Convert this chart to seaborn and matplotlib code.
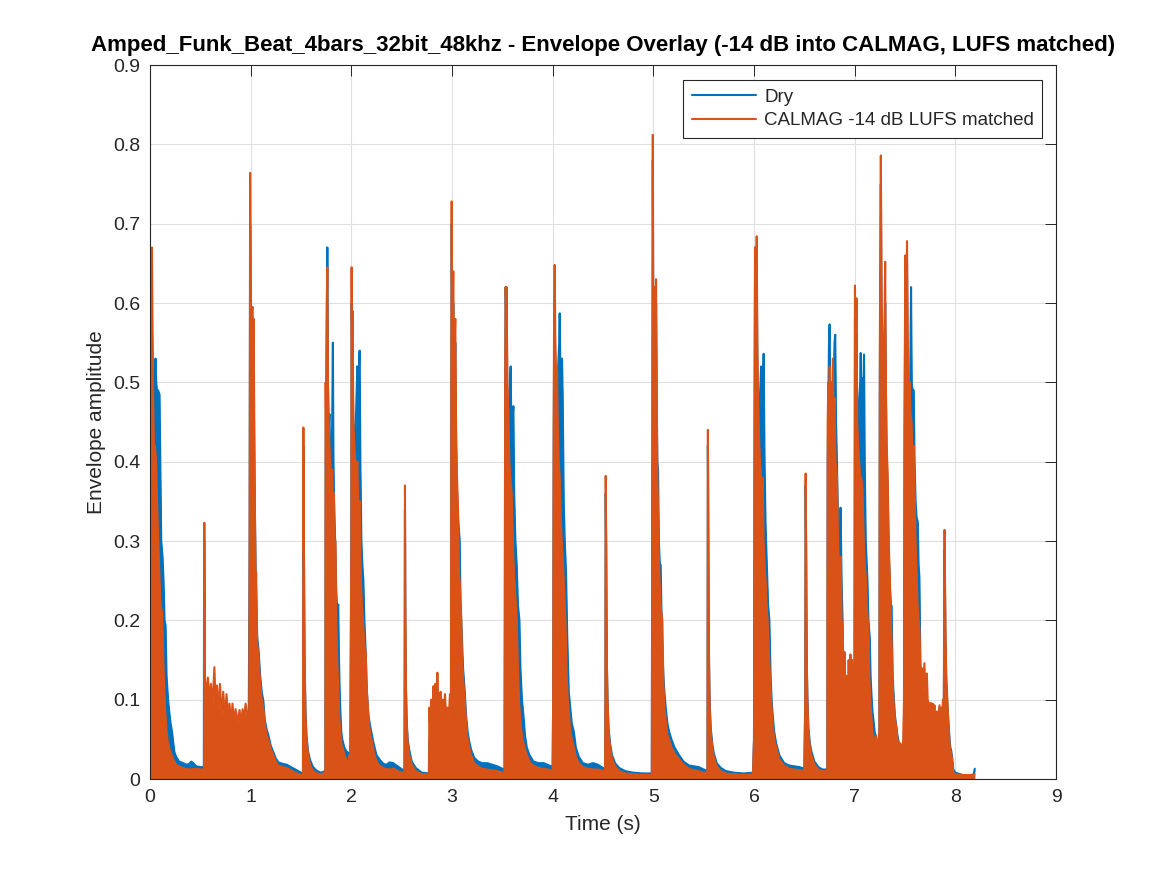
import matplotlib
matplotlib.use("Agg")
import matplotlib.pyplot as plt
import seaborn as sns

# envelope outlines, (time s, amplitude)
dry_env = [
    # hit at 0 s
    (0.0, 0.0), (0.004, 0.42), (0.012, 0.60), (0.022, 0.55), (0.035, 0.45), (0.045, 0.49),
    (0.055, 0.53), (0.062, 0.50), (0.07, 0.49), (0.08, 0.49), (0.095, 0.485), (0.103, 0.40),
    (0.112, 0.30), (0.125, 0.28), (0.135, 0.25), (0.145, 0.2), (0.155, 0.194), (0.165, 0.13),
    (0.18, 0.10), (0.193, 0.083), (0.205, 0.07), (0.22, 0.059), (0.232, 0.045), (0.243, 0.034),
    (0.26, 0.028), (0.29, 0.022), (0.33, 0.02), (0.36, 0.018), (0.39, 0.019), (0.41, 0.022),
    (0.43, 0.02), (0.46, 0.016), (0.50, 0.015), (0.535, 0.015),
    # hit 0.54 s + roll
    (0.538, 0.30), (0.545, 0.06), (0.70, 0.05), (0.98, 0.05),
    # hit 1 s
    (0.99, 0.3), (0.995, 0.70), (1.005, 0.55), (1.02, 0.58), (1.03, 0.50), (1.04, 0.36),
    (1.05, 0.26), (1.065, 0.18), (1.08, 0.16), (1.095, 0.13), (1.11, 0.11), (1.127, 0.098),
    (1.14, 0.075), (1.16, 0.062), (1.175, 0.056), (1.20, 0.042), (1.225, 0.034), (1.25, 0.026),
    (1.275, 0.021), (1.32, 0.019), (1.36, 0.018), (1.40, 0.015), (1.46, 0.011), (1.50, 0.008),
    (1.52, 0.007),
    # hit 1.52 s
    (1.522, 0.15), (1.524, 0.42), (1.528, 0.28), (1.535, 0.15), (1.545, 0.085), (1.555, 0.055),
    (1.57, 0.035), (1.59, 0.024), (1.62, 0.015), (1.66, 0.01), (1.70, 0.008), (1.74, 0.01),
    # hit 1.76 s
    (1.742, 0.0), (1.745, 0.40), (1.755, 0.55), (1.762, 0.67), (1.768, 0.50), (1.775, 0.44),
    (1.783, 0.46), (1.79, 0.40), (1.80, 0.38), (1.81, 0.45), (1.817, 0.55), (1.823, 0.40),
    (1.83, 0.34), (1.84, 0.30), (1.85, 0.24), (1.86, 0.21), (1.87, 0.22), (1.878, 0.15),
    (1.883, 0.12), (1.89, 0.09), (1.90, 0.06), (1.91, 0.05), (1.93, 0.04), (1.95, 0.035),
    (1.97, 0.033), (1.99, 0.03),
    # hit 2 s
    (2.0, 0.3), (2.003, 0.60), (2.01, 0.55), (2.02, 0.45), (2.035, 0.42), (2.045, 0.45),
    (2.055, 0.50), (2.06, 0.52), (2.07, 0.48), (2.078, 0.53), (2.083, 0.54), (2.09, 0.40),
    (2.10, 0.30), (2.11, 0.27), (2.12, 0.25), (2.13, 0.20), (2.143, 0.16), (2.155, 0.11),
    (2.17, 0.08), (2.19, 0.065), (2.218, 0.047), (2.25, 0.03), (2.284, 0.024), (2.32, 0.019),
    (2.35, 0.018), (2.38, 0.021), (2.416, 0.02), (2.45, 0.017), (2.482, 0.014), (2.528, 0.01),
    # hit 2.53 s
    (2.53, 0.1), (2.533, 0.34), (2.537, 0.2), (2.542, 0.12), (2.55, 0.075), (2.56, 0.05),
    (2.575, 0.037), (2.60, 0.022), (2.64, 0.014), (2.70, 0.008), (2.77, 0.007),
    (2.775, 0.05), (2.85, 0.055), (2.95, 0.05), (2.99, 0.06),
    # hit 3 s
    (2.993, 0.45), (2.997, 0.70), (3.003, 0.55), (3.013, 0.60), (3.025, 0.50), (3.033, 0.55),
    (3.04, 0.42), (3.05, 0.36), (3.06, 0.33), (3.077, 0.30), (3.085, 0.22), (3.095, 0.19),
    (3.11, 0.14), (3.127, 0.11), (3.14, 0.08), (3.155, 0.06), (3.17, 0.048), (3.19, 0.037),
    (3.22, 0.027), (3.26, 0.022), (3.30, 0.02), (3.35, 0.02), (3.40, 0.018), (3.45, 0.016),
    (3.50, 0.013), (3.522, 0.012),
    # hit 3.53 s
    (3.525, 0.2), (3.528, 0.48), (3.533, 0.62), (3.538, 0.58), (3.543, 0.60), (3.55, 0.48),
    (3.56, 0.44), (3.57, 0.46), (3.577, 0.50), (3.583, 0.52), (3.59, 0.44), (3.60, 0.45),
    (3.61, 0.47), (3.618, 0.36), (3.63, 0.30), (3.643, 0.27), (3.655, 0.22), (3.67, 0.20),
    (3.68, 0.14), (3.695, 0.10), (3.71, 0.08), (3.725, 0.055), (3.743, 0.04), (3.77, 0.03),
    (3.81, 0.022), (3.86, 0.02), (3.91, 0.02), (3.95, 0.018), (4.0, 0.015),
    # hit 4 s
    (4.005, 0.1), (4.01, 0.40), (4.015, 0.55), (4.02, 0.60), (4.027, 0.50), (4.035, 0.48),
    (4.045, 0.50), (4.055, 0.52), (4.065, 0.55), (4.07, 0.587), (4.078, 0.50), (4.085, 0.52),
    (4.093, 0.53), (4.10, 0.48), (4.11, 0.35), (4.12, 0.30), (4.133, 0.26), (4.145, 0.18),
    (4.16, 0.11), (4.175, 0.09), (4.19, 0.07), (4.21, 0.06), (4.23, 0.04), (4.26, 0.028),
    (4.30, 0.02), (4.35, 0.018), (4.40, 0.02), (4.45, 0.018), (4.50, 0.014), (4.52, 0.012),
    # hit 4.53 s
    (4.524, 0.1), (4.527, 0.36), (4.532, 0.28), (4.538, 0.15), (4.545, 0.1), (4.555, 0.065),
    (4.57, 0.045), (4.59, 0.03), (4.62, 0.02), (4.66, 0.014), (4.72, 0.01), (4.80, 0.008),
    (4.90, 0.007), (4.985, 0.007),
    # hit 5 s
    (4.99, 0.4), (4.995, 0.78), (5.0, 0.55), (5.01, 0.52), (5.015, 0.58), (5.02, 0.50),
    (5.027, 0.60), (5.033, 0.48), (5.04, 0.40), (5.047, 0.39), (5.055, 0.30), (5.065, 0.27),
    (5.073, 0.27), (5.085, 0.18), (5.10, 0.13), (5.11, 0.11), (5.123, 0.09), (5.14, 0.07),
    (5.156, 0.06), (5.18, 0.05), (5.21, 0.04), (5.256, 0.03), (5.30, 0.022), (5.355, 0.017),
    (5.40, 0.016), (5.45, 0.015), (5.50, 0.012), (5.538, 0.01),
    # hit 5.54 s
    (5.539, 0.15), (5.542, 0.42), (5.547, 0.28), (5.553, 0.15), (5.56, 0.095), (5.57, 0.065),
    (5.585, 0.045), (5.60, 0.033), (5.63, 0.02), (5.67, 0.014), (5.72, 0.01), (5.80, 0.008),
    (5.90, 0.007), (5.99, 0.008),
    # hit 6 s
    (6.0, 0.05), (6.005, 0.40), (6.01, 0.62), (6.018, 0.50), (6.027, 0.64), (6.035, 0.50),
    (6.045, 0.45), (6.055, 0.47), (6.065, 0.50), (6.07, 0.52), (6.08, 0.48), (6.09, 0.50),
    (6.096, 0.536), (6.105, 0.40), (6.115, 0.32), (6.13, 0.26), (6.14, 0.22), (6.153, 0.20),
    (6.165, 0.13), (6.175, 0.10), (6.186, 0.08), (6.20, 0.06), (6.22, 0.045), (6.252, 0.03),
    (6.30, 0.02), (6.35, 0.017), (6.40, 0.016), (6.45, 0.015), (6.50, 0.013),
    # hit 6.51 s
    (6.509, 0.1), (6.513, 0.37), (6.518, 0.28), (6.524, 0.15), (6.53, 0.105), (6.54, 0.065),
    (6.555, 0.045), (6.57, 0.035), (6.60, 0.022), (6.64, 0.015), (6.68, 0.012), (6.725, 0.012),
    # hits 6.75 - 8 s
    (6.728, 0.0), (6.732, 0.40), (6.74, 0.50), (6.745, 0.55), (6.751, 0.573), (6.758, 0.48),
    (6.765, 0.50), (6.775, 0.45), (6.785, 0.50), (6.795, 0.52), (6.80, 0.55), (6.807, 0.56),
    (6.815, 0.45), (6.824, 0.40), (6.835, 0.32), (6.845, 0.28), (6.855, 0.30), (6.86, 0.342),
    (6.87, 0.25), (6.88, 0.20), (6.89, 0.12), (6.90, 0.10), (6.92, 0.09), (6.95, 0.09),
    (6.975, 0.10), (6.998, 0.10),
    (7.0, 0.3), (7.003, 0.58), (7.01, 0.48), (7.018, 0.56), (7.025, 0.45), (7.035, 0.44),
    (7.045, 0.48), (7.055, 0.50), (7.06, 0.537), (7.068, 0.46), (7.077, 0.505), (7.085, 0.48),
    (7.093, 0.535), (7.10, 0.40), (7.11, 0.30), (7.12, 0.27), (7.127, 0.25), (7.137, 0.20),
    (7.15, 0.178), (7.158, 0.13), (7.167, 0.106), (7.177, 0.085), (7.187, 0.074), (7.198, 0.06),
    (7.21, 0.053), (7.227, 0.043), (7.245, 0.05),
    (7.25, 0.50), (7.26, 0.75), (7.268, 0.55), (7.277, 0.50), (7.29, 0.48), (7.303, 0.60),
    (7.31, 0.48), (7.318, 0.40), (7.327, 0.37), (7.338, 0.29), (7.35, 0.24), (7.36, 0.22),
    (7.367, 0.218), (7.377, 0.13), (7.39, 0.10), (7.40, 0.08), (7.41, 0.07), (7.425, 0.055),
    (7.443, 0.043), (7.46, 0.043), (7.475, 0.035), (7.49, 0.05),
    (7.495, 0.4), (7.503, 0.62), (7.51, 0.50), (7.52, 0.65), (7.527, 0.50), (7.537, 0.45),
    (7.543, 0.49), (7.55, 0.48), (7.56, 0.62), (7.567, 0.50), (7.575, 0.49), (7.587, 0.49),
    (7.595, 0.40), (7.605, 0.35), (7.615, 0.33), (7.627, 0.324), (7.635, 0.27), (7.643, 0.255),
    (7.655, 0.12), (7.70, 0.09), (7.75, 0.07), (7.80, 0.06), (7.85, 0.06), (7.885, 0.07),
    (7.89, 0.2), (7.893, 0.29), (7.898, 0.22), (7.903, 0.16), (7.91, 0.12), (7.92, 0.095),
    (7.927, 0.08), (7.935, 0.065), (7.943, 0.05), (7.95, 0.04), (7.96, 0.035), (7.97, 0.025),
    (7.98, 0.012), (8.0, 0.008), (8.05, 0.006), (8.10, 0.004), (8.13, 0.002), (8.16, 0.001),
    (8.18, 0.004), (8.193, 0.013),
]

calmag_env = [
    # hit at 0 s
    (0.0, 0.0), (0.003, 0.49), (0.010, 0.665), (0.020, 0.67), (0.026, 0.56), (0.033, 0.47),
    (0.040, 0.41), (0.050, 0.42), (0.060, 0.40), (0.075, 0.33), (0.090, 0.27), (0.105, 0.22),
    (0.120, 0.21), (0.130, 0.16), (0.140, 0.12), (0.150, 0.088), (0.165, 0.06), (0.180, 0.045),
    (0.200, 0.035), (0.230, 0.025), (0.26, 0.018), (0.30, 0.015), (0.35, 0.013), (0.40, 0.012),
    (0.45, 0.013), (0.50, 0.012), (0.535, 0.012),
    # hit 0.54 s + roll
    (0.538, 0.0), (0.540, 0.323), (0.546, 0.13), (0.555, 0.10), (0.575, 0.128), (0.59, 0.10),
    (0.605, 0.12), (0.62, 0.09), (0.64, 0.141), (0.65, 0.10), (0.665, 0.118), (0.68, 0.085),
    (0.695, 0.12), (0.71, 0.08), (0.728, 0.11), (0.745, 0.075), (0.76, 0.107), (0.78, 0.072),
    (0.79, 0.095), (0.805, 0.07), (0.82, 0.095), (0.835, 0.07), (0.85, 0.088), (0.87, 0.072),
    (0.89, 0.087), (0.905, 0.07), (0.92, 0.088), (0.935, 0.075), (0.95, 0.095), (0.97, 0.08),
    (0.985, 0.06),
    # hit 1 s
    (0.99, 0.30), (0.995, 0.764), (1.003, 0.55), (1.010, 0.59), (1.020, 0.595), (1.025, 0.50),
    (1.030, 0.58), (1.040, 0.37), (1.050, 0.25), (1.055, 0.26), (1.065, 0.17), (1.08, 0.15),
    (1.095, 0.12), (1.11, 0.10), (1.125, 0.09), (1.14, 0.07), (1.16, 0.055), (1.175, 0.05),
    (1.20, 0.038), (1.225, 0.03), (1.25, 0.022), (1.275, 0.017), (1.32, 0.015), (1.36, 0.014),
    (1.40, 0.011), (1.46, 0.007), (1.50, 0.005), (1.52, 0.005),
    # hit 1.52 s
    (1.522, 0.20), (1.524, 0.443), (1.528, 0.30), (1.532, 0.26), (1.537, 0.15), (1.545, 0.08),
    (1.555, 0.05), (1.57, 0.03), (1.59, 0.018), (1.62, 0.01), (1.66, 0.007), (1.70, 0.006),
    (1.74, 0.008),
    # hit 1.76 s
    (1.742, 0.0), (1.745, 0.50), (1.75, 0.40), (1.757, 0.60), (1.762, 0.645), (1.768, 0.50),
    (1.775, 0.45), (1.783, 0.42), (1.79, 0.40), (1.80, 0.36), (1.81, 0.39), (1.82, 0.33),
    (1.827, 0.36), (1.835, 0.30), (1.843, 0.30), (1.85, 0.20), (1.86, 0.15), (1.87, 0.12),
    (1.88, 0.08), (1.89, 0.06), (1.90, 0.05), (1.91, 0.0), (1.915, 0.04), (1.93, 0.03),
    (1.95, 0.025), (1.965, 0.02), (1.975, 0.0), (1.98, 0.03), (1.99, 0.02),
    # hit 2 s
    (2.0, 0.3), (2.003, 0.645), (2.008, 0.50), (2.013, 0.59), (2.02, 0.45), (2.03, 0.42),
    (2.04, 0.40), (2.05, 0.38), (2.06, 0.40), (2.07, 0.33), (2.083, 0.35), (2.095, 0.25),
    (2.105, 0.22), (2.12, 0.19), (2.13, 0.17), (2.143, 0.16), (2.15, 0.12), (2.16, 0.10),
    (2.175, 0.07), (2.19, 0.055), (2.21, 0.045), (2.23, 0.03), (2.26, 0.02), (2.29, 0.016),
    (2.33, 0.013), (2.38, 0.012), (2.42, 0.013), (2.46, 0.01), (2.50, 0.008), (2.528, 0.008),
    # hit 2.53 s
    (2.530, 0.1), (2.533, 0.37), (2.537, 0.22), (2.542, 0.12), (2.55, 0.07), (2.56, 0.045),
    (2.575, 0.03), (2.60, 0.018), (2.64, 0.01), (2.70, 0.006), (2.77, 0.006),
    # roll 2.77 - 3 s
    (2.772, 0.0), (2.775, 0.09), (2.785, 0.06), (2.795, 0.10), (2.805, 0.07), (2.815, 0.117),
    (2.825, 0.08), (2.835, 0.12), (2.845, 0.085), (2.855, 0.134), (2.865, 0.09), (2.875, 0.105),
    (2.887, 0.11), (2.90, 0.08), (2.91, 0.10), (2.92, 0.075), (2.93, 0.107), (2.94, 0.085),
    (2.953, 0.09), (2.965, 0.07), (2.98, 0.107), (2.99, 0.09),
    # hit 3 s
    (2.993, 0.5), (2.997, 0.728), (3.003, 0.55), (3.013, 0.64), (3.02, 0.50), (3.027, 0.55),
    (3.033, 0.58), (3.04, 0.45), (3.05, 0.38), (3.06, 0.34), (3.07, 0.26), (3.08, 0.24),
    (3.093, 0.20), (3.10, 0.15), (3.11, 0.13), (3.12, 0.11), (3.127, 0.10), (3.14, 0.07),
    (3.155, 0.05), (3.17, 0.04), (3.19, 0.03), (3.22, 0.02), (3.26, 0.016), (3.30, 0.013),
    (3.35, 0.012), (3.40, 0.011), (3.45, 0.01), (3.50, 0.008), (3.522, 0.008),
    # hit 3.53 s
    (3.525, 0.2), (3.528, 0.50), (3.533, 0.62), (3.538, 0.60), (3.543, 0.62), (3.55, 0.50),
    (3.56, 0.46), (3.57, 0.40), (3.58, 0.38), (3.593, 0.36), (3.605, 0.30), (3.615, 0.26),
    (3.625, 0.24), (3.635, 0.22), (3.643, 0.20), (3.655, 0.14), (3.665, 0.10), (3.675, 0.08),
    (3.69, 0.06), (3.71, 0.045), (3.73, 0.035), (3.75, 0.028), (3.78, 0.02), (3.82, 0.016),
    (3.86, 0.014), (3.90, 0.013), (3.95, 0.012), (4.0, 0.01),
    # hit 4 s
    (4.005, 0.1), (4.01, 0.45), (4.015, 0.60), (4.02, 0.648), (4.027, 0.55), (4.035, 0.50),
    (4.043, 0.52), (4.05, 0.45), (4.06, 0.40), (4.07, 0.38), (4.08, 0.33), (4.09, 0.30),
    (4.10, 0.28), (4.11, 0.25), (4.12, 0.22), (4.127, 0.20), (4.14, 0.13), (4.15, 0.10),
    (4.16, 0.085), (4.175, 0.06), (4.19, 0.05), (4.21, 0.04), (4.23, 0.028), (4.26, 0.02),
    (4.30, 0.015), (4.35, 0.013), (4.40, 0.012), (4.45, 0.012), (4.50, 0.01), (4.52, 0.008),
    # hit 4.53 s
    (4.524, 0.1), (4.527, 0.382), (4.532, 0.30), (4.538, 0.15), (4.545, 0.1), (4.555, 0.06),
    (4.57, 0.04), (4.59, 0.025), (4.62, 0.016), (4.66, 0.01), (4.72, 0.007), (4.80, 0.006),
    (4.90, 0.005), (4.985, 0.005),
    # hit 5 s
    (4.99, 0.45), (4.995, 0.812), (5.0, 0.55), (5.008, 0.55), (5.015, 0.62), (5.02, 0.50),
    (5.027, 0.63), (5.033, 0.52), (5.04, 0.38), (5.047, 0.33), (5.055, 0.28), (5.065, 0.24),
    (5.073, 0.22), (5.08, 0.21), (5.09, 0.20), (5.10, 0.12), (5.11, 0.09), (5.123, 0.075),
    (5.14, 0.055), (5.156, 0.05), (5.18, 0.04), (5.21, 0.032), (5.256, 0.025), (5.30, 0.018),
    (5.355, 0.013), (5.40, 0.011), (5.45, 0.01), (5.50, 0.008), (5.538, 0.008),
    # hit 5.54 s
    (5.539, 0.15), (5.542, 0.44), (5.547, 0.30), (5.553, 0.15), (5.56, 0.09), (5.57, 0.06),
    (5.585, 0.04), (5.60, 0.028), (5.63, 0.016), (5.67, 0.01), (5.72, 0.007), (5.80, 0.006),
    (5.90, 0.005), (5.99, 0.006),
    # hit 6 s
    (6.0, 0.05), (6.005, 0.45), (6.01, 0.67), (6.018, 0.55), (6.027, 0.684), (6.033, 0.55),
    (6.04, 0.48), (6.053, 0.42), (6.06, 0.40), (6.07, 0.38), (6.08, 0.36), (6.086, 0.38),
    (6.095, 0.30), (6.105, 0.27), (6.115, 0.25), (6.125, 0.22), (6.135, 0.20), (6.145, 0.17),
    (6.155, 0.14), (6.17, 0.10), (6.185, 0.07), (6.20, 0.05), (6.22, 0.04), (6.25, 0.025),
    (6.30, 0.017), (6.35, 0.013), (6.40, 0.012), (6.45, 0.011), (6.50, 0.01),
    # hit 6.51 s
    (6.509, 0.1), (6.513, 0.385), (6.518, 0.30), (6.524, 0.15), (6.53, 0.10), (6.54, 0.06),
    (6.555, 0.04), (6.57, 0.03), (6.60, 0.018), (6.64, 0.012), (6.68, 0.01), (6.725, 0.01),
    # hits 6.75 - 8 s
    (6.728, 0.0), (6.732, 0.45), (6.738, 0.50), (6.745, 0.38), (6.752, 0.52), (6.76, 0.45),
    (6.768, 0.50), (6.775, 0.42), (6.784, 0.53), (6.79, 0.45), (6.80, 0.48), (6.81, 0.40),
    (6.824, 0.38), (6.835, 0.30), (6.845, 0.26), (6.855, 0.20), (6.862, 0.28), (6.87, 0.20),
    (6.88, 0.19), (6.89, 0.12), (6.90, 0.16), (6.91, 0.10), (6.92, 0.13), (6.93, 0.09),
    (6.94, 0.15), (6.95, 0.10), (6.958, 0.157), (6.965, 0.11), (6.975, 0.15), (6.99, 0.10),
    (6.998, 0.12),
    (7.0, 0.3), (7.003, 0.622), (7.01, 0.50), (7.018, 0.606), (7.025, 0.45), (7.035, 0.42),
    (7.045, 0.40), (7.055, 0.38), (7.065, 0.38), (7.077, 0.367), (7.09, 0.30), (7.10, 0.27),
    (7.11, 0.255), (7.12, 0.22), (7.13, 0.20), (7.137, 0.19), (7.145, 0.13), (7.155, 0.10),
    (7.165, 0.08), (7.175, 0.06), (7.19, 0.05), (7.20, 0.04), (7.21, 0.055), (7.22, 0.04),
    (7.235, 0.05), (7.245, 0.06),
    (7.25, 0.55), (7.26, 0.786), (7.268, 0.60), (7.277, 0.54), (7.29, 0.50), (7.303, 0.652),
    (7.31, 0.50), (7.318, 0.42), (7.327, 0.388), (7.338, 0.30), (7.35, 0.25), (7.36, 0.20),
    (7.37, 0.16), (7.377, 0.12), (7.39, 0.09), (7.40, 0.075), (7.41, 0.069), (7.425, 0.05),
    (7.44, 0.04), (7.455, 0.045), (7.47, 0.03), (7.48, 0.04), (7.49, 0.10),
    (7.495, 0.45), (7.503, 0.66), (7.51, 0.55), (7.52, 0.678), (7.527, 0.55), (7.537, 0.473),
    (7.545, 0.50), (7.555, 0.46), (7.565, 0.45), (7.575, 0.40), (7.585, 0.42), (7.593, 0.378),
    (7.605, 0.30), (7.615, 0.26), (7.625, 0.22), (7.635, 0.20), (7.643, 0.19), (7.655, 0.13),
    (7.665, 0.14), (7.675, 0.11), (7.685, 0.13), (7.693, 0.146), (7.70, 0.11), (7.71, 0.12),
    (7.717, 0.133), (7.725, 0.10), (7.735, 0.095), (7.745, 0.085), (7.755, 0.096), (7.765, 0.08),
    (7.775, 0.095), (7.785, 0.085), (7.793, 0.093), (7.805, 0.07), (7.815, 0.085), (7.827, 0.077),
    (7.835, 0.085), (7.843, 0.093), (7.85, 0.07), (7.86, 0.09), (7.87, 0.08), (7.877, 0.10),
    (7.885, 0.09),
    (7.89, 0.25), (7.893, 0.314), (7.898, 0.25), (7.903, 0.176), (7.91, 0.13), (7.92, 0.10),
    (7.927, 0.082), (7.935, 0.06), (7.943, 0.043), (7.95, 0.035), (7.96, 0.032), (7.97, 0.02),
    (7.98, 0.008), (8.0, 0.006), (8.05, 0.005), (8.10, 0.005), (8.15, 0.005), (8.19, 0.006),
]

series_names = ["Dry", "CALMAG -14 dB LUFS matched"]
series_colors = ["#0072BD", "#D95319"]
title = "Amped_Funk_Beat_4bars_32bit_48khz - Envelope Overlay (-14 dB into CALMAG, LUFS matched)"

sns.set_style("white")
plt.rcParams["font.family"] = ["Liberation Sans", "DejaVu Sans"]

fig = plt.figure(figsize=(11.67, 8.75), dpi=100)
ax = fig.add_axes([0.1285, 0.1097, 0.7764, 0.816])

# dry first, calmag drawn over it (fill + outline per series)
for i, (pts, name, col) in enumerate(zip([dry_env, calmag_env], series_names, series_colors)):
    t = [p[0] for p in pts]
    v = [p[1] for p in pts]
    ax.fill_between(t, 0, v, color=col, linewidth=0, zorder=3 + 2 * i)
    sns.lineplot(x=t, y=v, ax=ax, color=col, linewidth=1.5, label=name,
                 sort=False, estimator=None, zorder=4 + 2 * i)

ax.set_xlim(0, 9)
ax.set_ylim(0, 0.9)
ax.set_xticks(range(10))
ax.set_yticks([i / 10 for i in range(10)])
ax.set_yticklabels(["0"] + [f"{i / 10:.1f}" for i in range(1, 10)])
ax.grid(True, color="#dfdfdf", linewidth=0.8, zorder=0)
ax.set_axisbelow(True)
ax.tick_params(direction="in", length=8, width=0.7, top=True, right=True,
               labelsize=14, colors="#262626", pad=7)
for s in ax.spines.values():
    s.set_color("#262626")
    s.set_linewidth(0.8)
    s.set_zorder(10)

ax.set_xlabel("Time (s)", fontsize=15, color="#262626", labelpad=7)
ax.set_ylabel("Envelope amplitude", fontsize=15, color="#262626", labelpad=5)
ax.set_title(title, fontsize=16, fontweight="bold", color="black", pad=10)

leg = ax.legend(loc="upper right", bbox_to_anchor=(0.985, 0.979), borderaxespad=0,
                fancybox=False, framealpha=1, edgecolor="#262626", fontsize=13.5,
                handlelength=3.4, handletextpad=0.45, labelspacing=0.35, borderpad=0.45)
leg.get_frame().set_linewidth(0.8)
leg.set_zorder(20)

fig.savefig("out.png", dpi=100)
